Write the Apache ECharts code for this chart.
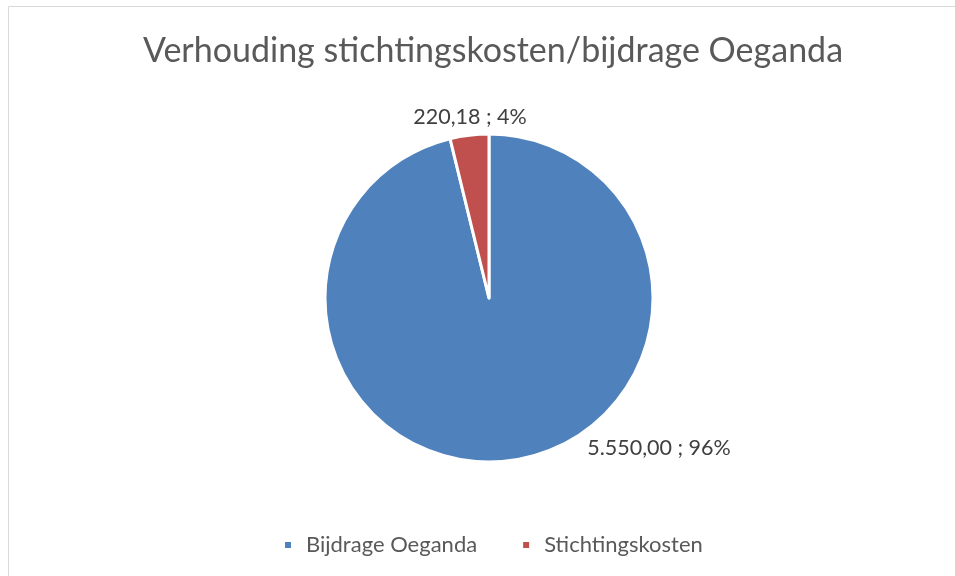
<!DOCTYPE html>
<html>
<head>
<meta charset="utf-8">
<script src="https://cdn.jsdelivr.net/npm/echarts@6/dist/echarts.min.js"></script>
<style>html,body{margin:0;padding:0;background:#fff}#c{width:955px;height:576px}</style>
</head>
<body>
<div id="c"></div>
<script>
const titleText = 'Verhouding stichtingskosten/bijdrage Oeganda';
const categories = ['Bijdrage Oeganda', 'Stichtingskosten'];
const values = [5550.00, 220.18];
const colors = ['#4F81BD', '#C0504D'];
const labelAnchors = [[659, 448], [470, 117]];

const total = values.reduce((a, b) => a + b, 0);
function fmt(v) {
  const parts = v.toFixed(2).split('.');
  parts[0] = parts[0].replace(/\B(?=(\d{3})+(?!\d))/g, '.');
  return parts[0] + ',' + parts[1];
}

const chart = echarts.init(document.getElementById('c'), null, {renderer: 'canvas'});
chart.setOption({
  animation: false,
  backgroundColor: '#fff',
  graphic: [{
    type: 'rect', shape: {x: 8.5, y: 6.5, width: 960, height: 580},
    style: {fill: 'none', stroke: '#d9d9d9', lineWidth: 1}, silent: true, z: -1
  }],
  title: {
    text: titleText, left: 488, textAlign: 'center', top: 29,
    textStyle: {fontFamily: 'Lato', fontWeight: 'normal', fontSize: 34, color: '#595959'}
  },
  legend: {
    data: categories, bottom: 20, left: 283, padding: 0, icon: 'rect', itemWidth: 8, itemHeight: 8, itemGap: 44,
    textStyle: {fontFamily: 'Lato', fontSize: 22, color: '#595959', padding: [0, 0, 0, 9]}
  },
  series: [{
    type: 'pie', center: [489, 298], radius: 164, startAngle: 90, clockwise: true,
    itemStyle: {borderColor: '#fff', borderWidth: 3},
    data: categories.map((n, i) => ({name: n, value: values[i], itemStyle: {color: colors[i]}})),
    label: {
      show: true, position: 'outside', fontFamily: 'Lato', fontSize: 21.5, color: '#404040',
      formatter: p => fmt(p.value) + ' ; ' + Math.round(p.value / total * 100) + '%'
    },
    labelLine: {show: false},
    labelLayout: p => ({x: labelAnchors[p.dataIndex][0], y: labelAnchors[p.dataIndex][1], align: 'center', verticalAlign: 'middle'})
  }]
});
</script>
</body>
</html>
